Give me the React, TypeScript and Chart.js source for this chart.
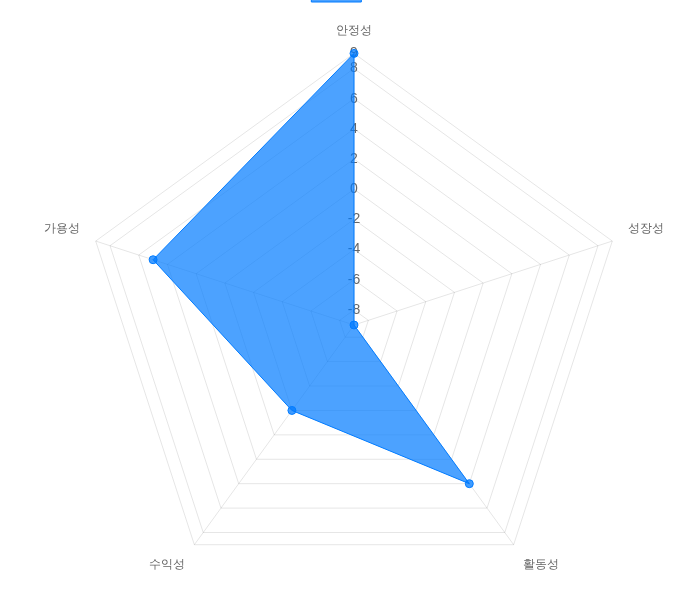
import React, { useEffect, useRef } from "react";
import { Chart, registerables } from "chart.js";

Chart.register(...registerables);

const categories: string[] = ["안정성", "성장성", "활동성", "수익성", "가용성"];
const seriesLabel = "score";
const seriesValues: number[] = [9, -9, 4, -2, 5];
const scaleMin = -9;
const scaleMax = 9;

export default function App() {
  const canvasRef = useRef<HTMLCanvasElement | null>(null);

  useEffect(() => {
    if (!canvasRef.current) return;
    const chart = new Chart(canvasRef.current, {
      type: "radar",
      data: {
        labels: categories,
        datasets: [
          {
            label: seriesLabel,
            data: seriesValues,
            backgroundColor: "rgba(0, 123, 255, 0.7)",
            borderColor: "rgb(0, 123, 255)",
            borderWidth: 1,
            pointBackgroundColor: "rgba(0, 123, 255, 0.75)",
            pointBorderColor: "rgb(0, 123, 255)",
            pointBorderWidth: 1,
            pointRadius: 4,
          },
        ],
      },
      options: {
        responsive: false,
        animation: false,
        layout: { padding: 0 },
        plugins: {
          legend: {
            position: "top",
            labels: {
              boxWidth: 50,
              boxHeight: 12,
              color: "rgba(0,0,0,0)",
              font: { size: 12 },
            },
          },
          tooltip: { enabled: false },
        },
        scales: {
          r: {
            min: scaleMin,
            max: scaleMax,
            ticks: {
              maxTicksLimit: 11,
              color: "#666",
              font: { size: 14 },
              backdropPadding: 1,
              showLabelBackdrop: false,
              callback: (value: number | string) => (Number(value) === scaleMin ? "" : String(value)),
            },
            pointLabels: {
              color: "#666",
              font: { size: 12 },
              padding: 8,
            },
            grid: { color: "rgba(0,0,0,0.1)" },
            angleLines: { color: "rgba(0,0,0,0.1)" },
          },
        },
      },
    });
    return () => chart.destroy();
  }, []);

  return (
    <div
      style={{
        position: "fixed",
        top: 0,
        left: 0,
        width: 699,
        height: 599,
        overflow: "hidden",
      }}
    >
      <canvas
        ref={canvasRef}
        width={690}
        height={636}
        style={{ position: "absolute", top: -20, left: 9, width: 690, height: 636, display: "block" }}
      />
    </div>
  );
}
